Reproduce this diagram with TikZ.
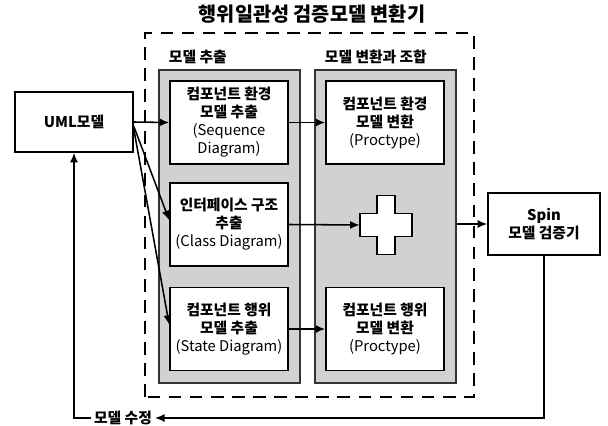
\documentclass[tikz,border=0pt]{standalone}
\usepackage{fontspec}
\setmainfont{Noto Sans CJK KR}
\usetikzlibrary{arrows.meta}

\begin{document}
\begin{tikzpicture}[
  block/.style = {
    shape = rectangle,
    draw = black,
    fill = white,
    line width = 1.1pt,
    align = center,
    minimum width = 2.95cm,
    minimum height = 2.075cm,
    inner sep = 2pt,
    font = \fontsize{10.5}{12.8}\selectfont\bfseries,
  },
  panel/.style = {
    shape = rectangle,
    draw = black!80,
    fill = black!18,
    line width = 0.8pt,
    minimum width = 3.525cm,
    minimum height = 7.825cm,
  },
  caption/.style = {
    anchor = west,
    font = \fontsize{10.5}{12.8}\selectfont\bfseries,
  },
  flow/.style = {
    -{Latex[length = 2.4mm, width = 2mm]},
    line width = 1.1pt,
  },
]
  \useasboundingbox (0, 0) rectangle (15.2, 10.65);

  \node[font = \fontsize{14}{16}\selectfont\bfseries] (title) at (7.8, 10.3) {행위일관성 검증모델 변환기};
  \draw[dashed, line width = 1.2pt, dash pattern = on 9pt off 6pt] (3.625, 0.725) rectangle (11.85, 9.825);

  \node[panel] (extract) at (5.7375, 4.9875) {};
  \node[panel] (convert) at (9.6375, 4.9875) {};
  \node[caption] (extractlabel) at (4.1, 9.22) {모델 추출};
  \node[caption] (convertlabel) at (8.0, 9.22) {모델 변환과 조합};

  \node[block] (ext1) at (5.725, 7.5875) {컴포넌트 환경\\모델 추출\\\mdseries(Sequence\\\mdseries Diagram)};
  \node[block] (ext2) at (5.725, 5.0375) {인터페이스 구조\\추출\\\mdseries(Class Diagram)};
  \node[block] (ext3) at (5.725, 2.425) {컴포넌트 행위\\모델 추출\\\mdseries(State Diagram)};
  \node[block] (conv1) at (9.625, 7.5875) {컴포넌트 환경\\모델 변환\\\mdseries(Proctype)};
  \node[block] (conv2) at (9.625, 2.425) {컴포넌트 행위\\모델 변환\\\mdseries(Proctype)};

  % plus sign
  \node[minimum width = 1.3cm, minimum height = 1.48cm] (plus) at (9.65, 5.025) {};
  \begin{scope}[shift = {(plus.center)}]
    \draw[fill = white, line width = 1.1pt]
      (-0.225, 0.74) -- (0.225, 0.74) -- (0.225, 0.29) -- (0.65, 0.29)
      -- (0.65, -0.29) -- (0.225, -0.29) -- (0.225, -0.74) -- (-0.225, -0.74)
      -- (-0.225, -0.29) -- (-0.65, -0.29) -- (-0.65, 0.29) -- (-0.225, 0.29) -- cycle;
  \end{scope}

  \node[block, minimum height = 1.5cm] (uml) at (1.85, 7.6) {UML모델};
  \node[block, minimum width = 2.8cm, minimum height = 1.55cm] (spin) at (13.6, 5.05) {Spin\\모델 검증기};
  \node[font = \fontsize{10.5}{12.8}\selectfont\bfseries, inner sep = 2pt] (fix) at (3.075, 0.2) {모델 수정};

  \draw[flow] (uml.east) -- (ext1.west);
  \draw[flow] ([yshift = -3pt]uml.east) -- ([yshift = 3pt]ext2.west);
  \draw[flow] ([yshift = -5pt]uml.east) -- ([yshift = 3pt]ext3.west);
  \draw[flow] (ext1.east) -- (conv1.west);
  \draw[flow] (ext2.east) -- (plus.west);
  \draw[flow] (ext3.east) -- (conv2.west);
  \draw[flow] (convert.east |- spin.west) -- (spin.west);
  \draw[flow] (spin.south) |- (fix.east);
  \draw[flow] (fix.west) -| (uml.south);
\end{tikzpicture}
\end{document}
